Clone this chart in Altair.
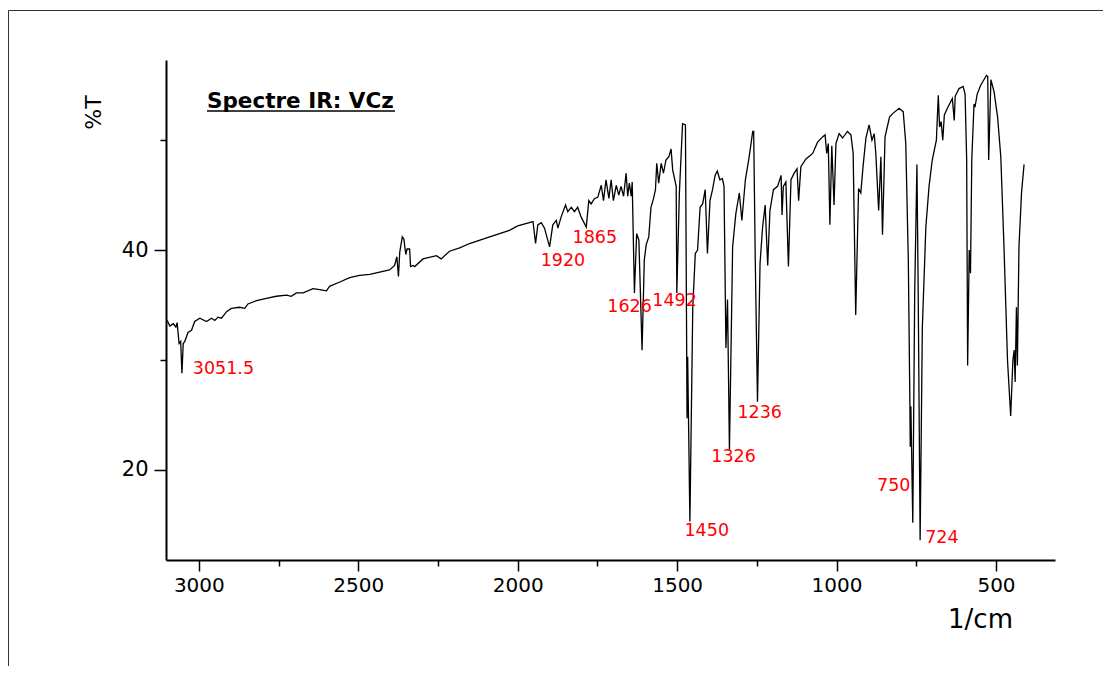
import altair as alt
import pandas as pd

# ---- spectrum data (wavenumber in 1/cm, transmittance in %T) ----
wavenumber = [
    3099, 3091, 3080, 3072, 3068, 3062, 3057, 3053, 3049, 3044, 3034, 3023, 3013, 2997,
    2976, 2960, 2950, 2940, 2929, 2913, 2898, 2872, 2856, 2846, 2819, 2788, 2757, 2725,
    2710, 2694, 2673, 2642, 2621, 2600, 2590, 2558, 2527, 2496, 2464, 2433, 2402, 2386,
    2379, 2374, 2370, 2362, 2357, 2351, 2347, 2339, 2336, 2328, 2323, 2297, 2255, 2240,
    2214, 2182, 2151, 2088, 2026, 2000, 1952, 1944, 1937, 1926, 1916, 1900, 1890, 1879,
    1874, 1864, 1850, 1843, 1832, 1822, 1812, 1801, 1785, 1777, 1770, 1759, 1749, 1738,
    1731, 1723, 1714, 1707, 1700, 1691, 1683, 1676, 1668, 1660, 1655, 1650, 1644, 1641,
    1634, 1627, 1620, 1610, 1603, 1597, 1589, 1582, 1574, 1568, 1564, 1558, 1550, 1543,
    1535, 1526, 1519, 1514, 1503, 1501, 1493, 1483, 1474, 1470, 1469, 1467, 1460, 1451,
    1443, 1436, 1428, 1420, 1412, 1405, 1397, 1389, 1381, 1374, 1366, 1358, 1353, 1347,
    1342, 1336, 1326, 1316, 1305, 1297, 1286, 1274, 1263, 1260, 1255, 1248, 1240, 1232,
    1224, 1216, 1209, 1198, 1185, 1174, 1171, 1167, 1159, 1151, 1143, 1133, 1124, 1119,
    1112, 1096, 1075, 1060, 1044, 1036, 1031, 1026, 1021, 1015, 1008, 1002, 992, 981,
    966, 955, 948, 940, 931, 924, 917, 908, 898, 889, 882, 877, 868, 861, 856, 848, 834,
    825, 804, 791, 783, 775, 770, 769, 767, 761, 755, 748, 744, 738, 731, 720, 710, 700,
    687, 681, 677, 672, 667, 662, 651, 637, 631, 628, 616, 603, 597, 592, 589, 584, 580,
    576, 569, 566, 559, 548, 538, 530, 526, 523, 516, 506, 495, 485, 475, 464, 454, 447,
    443, 440, 436, 433, 428, 420, 412,
]
transmittance = [
    33.6, 33.1, 33.3, 33.0, 33.4, 31.5, 31.7, 28.8, 31.5, 31.7, 32.5, 32.7, 33.5, 33.8,
    33.5, 33.8, 33.6, 33.9, 33.8, 34.4, 34.7, 34.8, 34.7, 35.1, 35.4, 35.6, 35.8, 35.9,
    35.8, 36.1, 36.1, 36.5, 36.4, 36.3, 36.7, 37.1, 37.5, 37.7, 37.8, 38.0, 38.2, 38.6,
    39.4, 37.6, 39.8, 41.2, 41.0, 39.6, 40.1, 40.1, 38.5, 38.6, 38.5, 39.2, 39.5, 39.2,
    39.9, 40.2, 40.6, 41.2, 41.8, 42.2, 42.6, 40.6, 42.3, 42.5, 42.0, 40.3, 42.3, 42.7,
    42.0, 43.0, 44.1, 43.5, 43.9, 43.5, 43.9, 43.0, 42.1, 44.5, 44.2, 44.7, 44.8, 45.9,
    44.5, 46.4, 44.7, 46.4, 44.5, 45.9, 45.0, 45.8, 44.9, 47.0, 44.9, 46.1, 44.9, 46.2,
    36.1, 41.5, 40.9, 30.9, 39.1, 40.5, 41.2, 43.9, 44.7, 45.5, 47.9, 46.1, 47.9, 47.0,
    48.2, 48.5, 49.2, 47.3, 45.8, 36.1, 45.2, 51.5, 51.4, 30.3, 24.7, 30.3, 15.3, 34.8,
    39.7, 40.0, 43.9, 44.2, 45.5, 39.7, 44.5, 45.5, 46.8, 47.2, 46.4, 46.5, 45.8, 31.1,
    35.5, 21.8, 40.3, 43.3, 45.2, 42.7, 46.4, 48.5, 50.8, 50.8, 39.1, 26.2, 38.8, 42.1,
    44.1, 38.6, 43.6, 45.5, 45.8, 46.8, 43.2, 45.8, 46.2, 38.5, 46.4, 47.0, 47.4, 44.5,
    47.6, 48.3, 48.8, 49.8, 50.3, 50.5, 48.8, 49.7, 42.3, 49.5, 44.1, 49.7, 50.6, 50.2,
    50.8, 50.5, 48.8, 34.1, 45.6, 45.2, 47.6, 50.2, 51.4, 50.0, 50.6, 48.8, 43.6, 48.5, 41.4, 50.3, 52.1,
    52.4, 52.9, 52.6, 49.7, 39.1, 25.8, 22.1, 25.8, 15.2, 36.1, 47.8, 36.1, 13.6, 33.0, 42.1, 45.8, 48.2,
    50.0, 54.1, 51.2, 51.7, 50.0, 52.3, 53.0, 53.8, 51.8, 54.0, 54.7, 54.9, 54.2, 48.2, 29.5, 40.0, 37.9,
    48.2, 53.3, 53.0, 54.2, 55.0, 55.5, 55.9, 55.8, 48.2, 55.5, 54.4, 52.1, 48.5, 40.3, 30.0, 24.9, 30.0,
    30.9, 28.0, 34.8, 29.5, 40.3, 45.2, 47.8,
]

# ---- peak annotations ----
peak_text = ["3051.5", "1920", "1865", "1626", "1492", "1450", "1326", "1236", "750", "724"]
peak_wn = [3019, 1928, 1828, 1719, 1578, 1477, 1393, 1311, 873, 722]
peak_t = [29.2, 39.0, 41.1, 34.8, 35.4, 14.4, 21.2, 25.2, 18.5, 13.8]

x_ticks = [3000, 2750, 2500, 2250, 2000, 1750, 1500, 1250, 1000, 750, 500]
y_ticks = [20, 30, 40, 50]

spec_df = pd.DataFrame({"wn": wavenumber, "t": transmittance, "i": range(len(wavenumber))})
lab_df = pd.DataFrame({"wn": peak_wn, "t": peak_t, "txt": peak_text})

FONT = "DejaVu Sans"

x_scale = alt.Scale(domain=[315, 3103], reverse=True, nice=False, zero=False)
y_scale = alt.Scale(domain=[11.8, 57.3], nice=False, zero=False)

x_axis = alt.Axis(
    values=x_ticks,
    format="d",
    labelExpr="datum.value % 500 == 0 ? datum.label : ''",
    tickSize={"condition": {"test": "datum.value % 500 == 0", "value": 11}, "value": 6},
    grid=False,
    domainColor="black", domainWidth=2,
    tickColor="black", tickWidth=1.5,
    labelFont=FONT, labelFontSize=20, labelColor="black", labelPadding=4,
    title="1/cm", titleFont=FONT, titleFontSize=26, titleFontWeight="normal",
    titleColor="black", titleX=814, titleY=59, titleAlign="center", titleBaseline="middle",
)
y_axis = alt.Axis(
    values=y_ticks,
    labelExpr="datum.value % 20 == 0 ? datum.label : ''",
    tickSize={"condition": {"test": "datum.value % 20 == 0", "value": 12}, "value": 6},
    grid=False,
    domainColor="black", domainWidth=2,
    tickColor="black", tickWidth=1.5,
    labelFont=FONT, labelFontSize=21, labelColor="black", labelPadding=6,
    title="%T", titleFont=FONT, titleFontSize=22, titleFontWeight="normal",
    titleColor="black", titleAngle=270, titleX=-73, titleY=52,
    titleAlign="center", titleBaseline="middle",
)

line = alt.Chart(spec_df).mark_line(color="black", strokeWidth=1.3, clip=False).encode(
    x=alt.X("wn:Q", scale=x_scale, axis=x_axis),
    y=alt.Y("t:Q", scale=y_scale, axis=y_axis),
    order="i:O",
)

labels = alt.Chart(lab_df).mark_text(
    color="#ff0000", font=FONT, fontSize=17.5, align="left", baseline="middle"
).encode(
    x=alt.X("wn:Q", scale=x_scale),
    y=alt.Y("t:Q", scale=y_scale),
    text="txt:N",
)

title_text = alt.Chart(pd.DataFrame({"s": ["Spectre IR: VCz"]})).mark_text(
    font=FONT, fontSize=21.5, fontWeight="bold", color="black", align="left", baseline="alphabetic"
).encode(x=alt.value(41), y=alt.value(48), text="s:N")

underline = alt.Chart(pd.DataFrame({"s": [0]})).mark_rule(color="black", strokeWidth=1.5).encode(
    x=alt.value(41), x2=alt.value(229), y=alt.value(51)
)

frame_left = alt.Chart(pd.DataFrame({"s": [0]})).mark_rule(color="#333333", strokeWidth=1).encode(
    x=alt.value(-157.5), y=alt.value(-49.5), y2=alt.value(620)
)
frame_top = alt.Chart(pd.DataFrame({"s": [0]})).mark_rule(color="#333333", strokeWidth=1).encode(
    x=alt.value(-157.5), x2=alt.value(960), y=alt.value(-49.5)
)

chart = alt.layer(frame_left, frame_top, line, labels, title_text, underline).properties(
    width=889,
    height=500,
    autosize=alt.AutoSizeParams(type="none"),
    padding={"left": 158, "top": 52, "right": 48, "bottom": 106},
    background="white",
).configure_view(strokeWidth=0)

chart.save("out.html", embed_options={"renderer": "svg", "actions": False})
